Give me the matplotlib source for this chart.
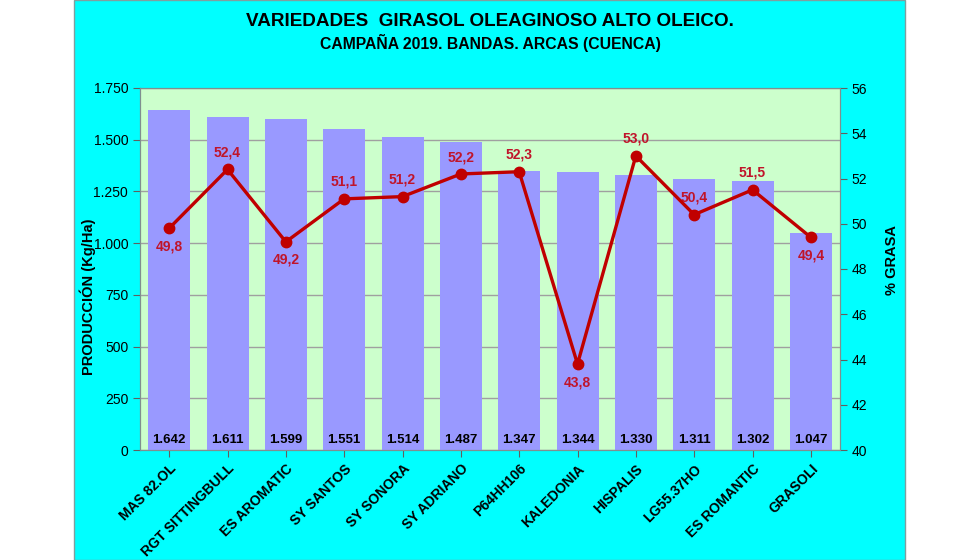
import matplotlib.pyplot as plt
from matplotlib.patches import Rectangle
from matplotlib.ticker import FuncFormatter

plt.rcParams['font.family'] = ['Liberation Sans', 'DejaVu Sans']

variedades = ["MAS 82.OL", "RGT SITTINGBULL", "ES AROMATIC", "SY SANTOS",
              "SY SONORA", "SY ADRIANO", "P64HH106", "KALEDONIA", "HISPALIS",
              "LG55.37HO", "ES ROMANTIC", "GRASOLI"]
produccion = [1642, 1611, 1599, 1551, 1514, 1487, 1347, 1344, 1330, 1311, 1302, 1047]
grasa = [49.8, 52.4, 49.2, 51.1, 51.2, 52.2, 52.3, 43.8, 53.0, 50.4, 51.5, 49.4]
# etiqueta de grasa por encima (True) o por debajo (False) del punto
encima = [False, True, False, True, True, True, True, False, True, True, True, False]

fig = plt.figure(figsize=(9.8, 5.6), dpi=100)
fig.patch.set_facecolor("white")
fig.patches.append(Rectangle((74 / 980, 0), (905 - 74) / 980, 1, transform=fig.transFigure,
                             facecolor="#00FFFF", edgecolor="#7f9f9f", lw=1, zorder=-10))

ax = fig.add_axes([140 / 980, 1 - 450 / 560, 700 / 980, 362 / 560])
ax.set_facecolor("#CCFFCC")
x = range(len(variedades))
ax.set_axisbelow(True)
ax.grid(axis="y", color="#a0a0a0", lw=1)
ax.bar(x, produccion, width=0.72, color="#9999FF", zorder=2)
ax.set_ylim(0, 1750)
ax.set_xlim(-0.5, len(variedades) - 0.5)
ax.set_yticks(range(0, 1751, 250))
ax.yaxis.set_major_formatter(FuncFormatter(lambda v, p: f"{int(v):,}".replace(",", ".")))
for i, v in enumerate(produccion):
    ax.text(i, 20, f"{v:,}".replace(",", "."), ha="center", va="bottom",
            fontsize=9.5, fontweight="bold", zorder=5)
ax.set_xticks(list(x))
ax.set_xticklabels(variedades, rotation=45, ha="right", rotation_mode="anchor",
                   fontsize=10, fontweight="bold")
ax.set_ylabel("PRODUCCIÓN (Kg/Ha)", fontsize=10.5, fontweight="bold")
ax.yaxis.set_label_coords(-0.063, 0.423)
ax.tick_params(axis="y", labelsize=10, direction="out", length=5, color="#606060")
ax.tick_params(axis="x", direction="out", length=5, color="#606060")
for s in ax.spines.values():
    s.set_color("#7f8f8f")

ax2 = ax.twinx()
ax2.plot(list(x), grasa, color="#C00000", lw=2.4, marker="o", markersize=7.5, zorder=4)
ax2.set_ylim(40, 56)
ax2.set_yticks(range(40, 57, 2))
ax2.set_ylabel("% GRASA", fontsize=10.5, fontweight="bold")
ax2.yaxis.set_label_coords(1.064, 0.525)
ax2.tick_params(axis="y", labelsize=10, direction="out", length=5, color="#606060")
for s in ax2.spines.values():
    s.set_color("#7f8f8f")
for i, g in enumerate(grasa):
    off = 0.75 if encima[i] else -0.8
    ax2.text(i, g + off, f"{g:.1f}".replace(".", ","), ha="center",
             va="center", fontsize=10, fontweight="bold", color="#C0142A")

fig.text(490 / 980, 1 - 22 / 560, "VARIEDADES  GIRASOL OLEAGINOSO ALTO OLEICO.",
         ha="center", va="center", fontsize=13.6, fontweight="bold")
fig.text(490 / 980, 1 - 43 / 560, "CAMPAÑA 2019. BANDAS. ARCAS (CUENCA)",
         ha="center", va="center", fontsize=11.3, fontweight="bold")

fig.savefig("out.png", dpi=100, facecolor=fig.get_facecolor())
